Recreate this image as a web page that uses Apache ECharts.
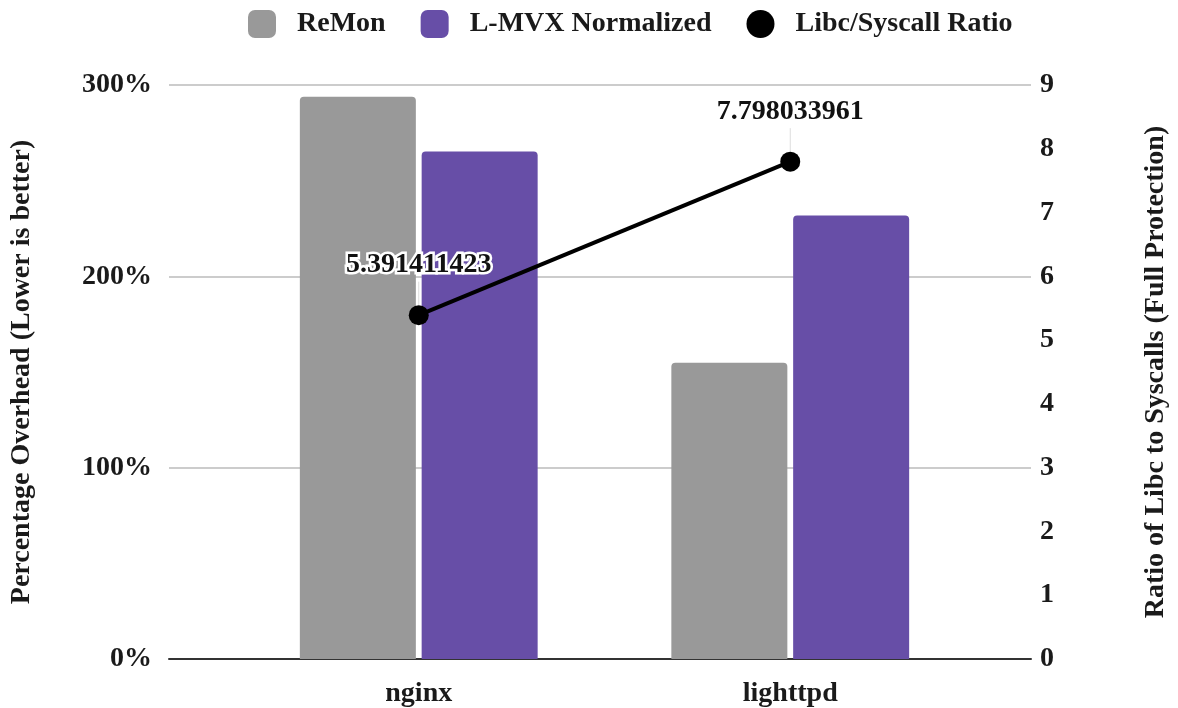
<!DOCTYPE html>
<html>
<head>
<meta charset="utf-8">
<script src="https://cdn.jsdelivr.net/npm/echarts@6/dist/echarts.min.js"></script>
<style>
  html, body { margin: 0; padding: 0; background: #fff; }
  #main1 { width: 1178px; height: 708px; }
</style>
</head>
<body>
<div id="main1"></div>
<script>
const categories = ["nginx", "lighttpd"];
const remon = [293.8, 154.8];
const lmvx = [265.3, 231.8];
const ratio = [5.391411423, 7.798033961];
const leftTicks = [0, 100, 200, 300];
const rightTicks = [0, 1, 2, 3, 4, 5, 6, 7, 8, 9];

const font = "Liberation Serif";
const txt = { fontFamily: font, fontWeight: "bold", fontSize: 28, color: "#1a1a1a" };

const option = {
  backgroundColor: "#fff",
  animation: false,
  legend: {
    top: 5,
    left: 243,
    itemWidth: 28,
    itemHeight: 28,
    itemGap: 35,
    textStyle: { ...txt, padding: [0, 0, 0, 16] },
    data: [
      { name: "ReMon", icon: "roundRect" },
      { name: "L-MVX Normalized", icon: "roundRect" },
      { name: "Libc/Syscall Ratio", icon: "circle" },
    ],
  },
  grid: [
    // full width grid: gridlines + axis labels
    { left: 168, right: 138, top: 85, bottom: 49 },
    // inner grid for the marks
    { left: 233, right: 202, top: 85, bottom: 49 },
  ],
  xAxis: [
    {
      gridIndex: 0,
      type: "category",
      data: categories,
      axisLine: { show: true, lineStyle: { color: "#333", width: 2 } },
      axisTick: { show: false },
      axisLabel: { show: false },
    },
    {
      gridIndex: 1,
      type: "category",
      data: categories,
      axisLine: { show: false },
      axisTick: { show: false },
      axisLabel: { ...txt, margin: 21 },
    },
  ],
  yAxis: [
    {
      gridIndex: 0,
      type: "value",
      min: leftTicks[0],
      max: leftTicks[leftTicks.length - 1],
      interval: 100,
      name: "Percentage Overhead (Lower is better)",
      nameLocation: "middle",
      nameGap: 133,
      nameTextStyle: { ...txt },
      axisLine: { show: false },
      axisTick: { show: false },
      axisLabel: { ...txt, margin: 17, formatter: "{value}%" },
      splitLine: { lineStyle: { color: "#cccccc", width: 2 } },
    },
    {
      gridIndex: 0,
      type: "value",
      position: "right",
      min: rightTicks[0],
      max: rightTicks[rightTicks.length - 1],
      interval: 1,
      name: "Ratio of Libc to Syscalls (Full Protection)",
      nameLocation: "middle",
      nameGap: 111,
      nameRotate: 90,
      nameTextStyle: { ...txt },
      axisLine: { show: false },
      axisTick: { show: false },
      axisLabel: { ...txt, margin: 9 },
      splitLine: { show: false },
    },
    {
      gridIndex: 1,
      type: "value",
      min: 0,
      max: 300,
      show: false,
      splitLine: { show: false },
    },
    {
      gridIndex: 1,
      type: "value",
      min: 0,
      max: 9,
      show: false,
      splitLine: { show: false },
    },
  ],
  series: [
    {
      name: "ReMon",
      type: "bar",
      xAxisIndex: 1,
      yAxisIndex: 2,
      data: remon,
      barWidth: 116,
      barGap: "5%",
      itemStyle: { color: "#999999", borderRadius: [4, 4, 0, 0] },
    },
    {
      name: "L-MVX Normalized",
      type: "bar",
      xAxisIndex: 1,
      yAxisIndex: 2,
      data: lmvx,
      barWidth: 116,
      barGap: "5%",
      itemStyle: { color: "#674ea7", borderRadius: [4, 4, 0, 0] },
    },
    {
      name: "Libc/Syscall Ratio",
      type: "line",
      xAxisIndex: 1,
      yAxisIndex: 3,
      data: ratio,
      symbol: "circle",
      symbolSize: 20,
      z: 5,
      itemStyle: { color: "#000" },
      lineStyle: { color: "#000", width: 4 },
      label: {
        show: true,
        position: "top",
        distance: 12,
        ...txt,
        color: "#111",
        textBorderColor: "#fff",
        textBorderWidth: 5,
      },
      labelLayout: { dy: -14 },
      labelLine: { show: true, lineStyle: { color: "#dddddd", width: 1 } },
    },
  ],
};

const myChart = echarts.init(document.getElementById("main1"));
myChart.setOption(option);
</script>
</body>
</html>
